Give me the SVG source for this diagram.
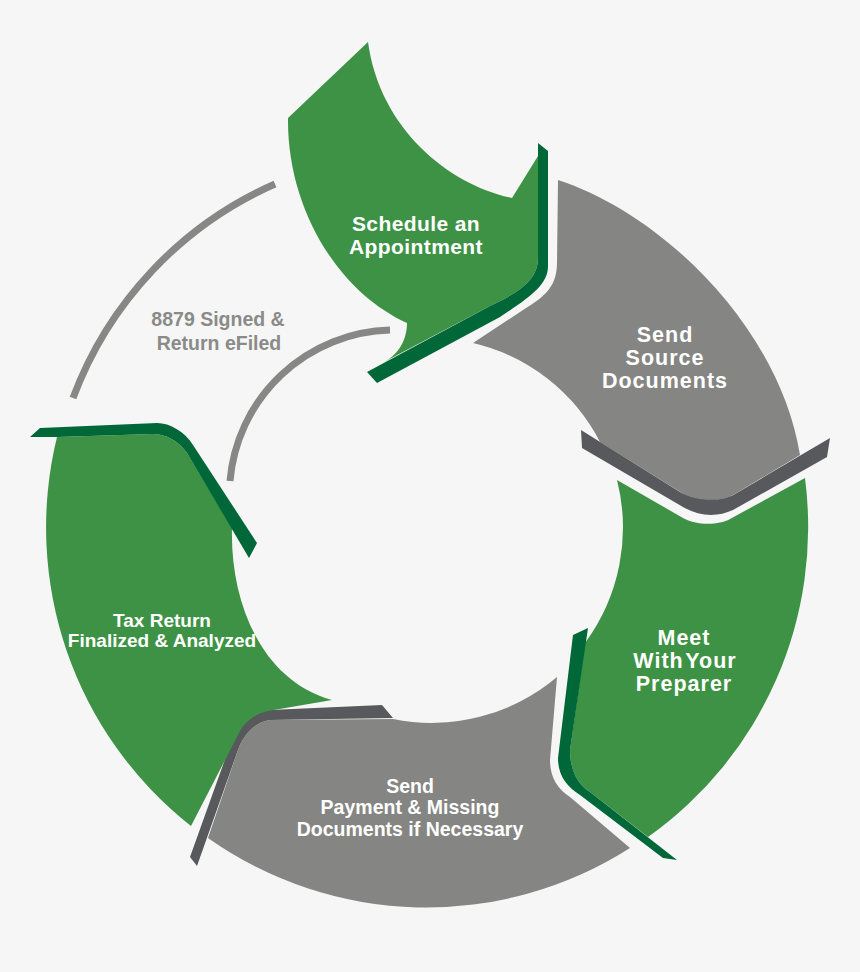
<svg xmlns="http://www.w3.org/2000/svg" width="860" height="972" viewBox="0 0 860 972">
<style>
.g{fill:#3e9245}
.dg{fill:#006838}
.s{fill:#858683}
.ds{fill:#58595c}
.arc{fill:none;stroke:#878886;stroke-width:7}
text{font-family:"Liberation Sans",Arial,Helvetica,sans-serif;font-weight:bold;text-anchor:middle}
.w{fill:#ffffff}
.t{fill:#8a8b89}
</style>
<rect width="860" height="972" fill="#f6f6f6"/>

<g id="step-8879">
<path class="arc" d="M 275,184 A 378 378 0 0 0 73,398"/>
<path class="arc" d="M 390,330 A 165 165 0 0 0 230,481"/>
<text class="t" font-size="19.5" x="218" y="326">8879 Signed &amp;</text>
<text class="t" font-size="19.5" x="219" y="350">Return eFiled</text>
</g>

<g id="step-schedule">
<path class="g" d="M 368,42 L 288,118 C 287,205 335,290 407,323 C 407,340 398,355 384,362 L 490,306 C 515,294 538,282 538,258 L 538,156 L 512,198 C 450,185 380,130 368,42 Z"/>
<path class="dg" d="M 367,372 L 490,306 C 515,294 538,282 538,258 L 538,143 L 548,151 L 548,266 C 548,285 530,297 500,317 L 377,383 Z"/>
<text class="w" font-size="21" letter-spacing="0.4" x="416" y="231">Schedule an</text>
<text class="w" font-size="21" letter-spacing="0.4" x="416" y="254">Appointment</text>
</g>

<g id="step-source">
<path class="s" d="M 558,180 C 665,215 780,330 800,455 L 733,495 C 720,502 697,503 682,493 L 600,442 A 192 192 0 0 0 473,343 L 523,310 C 540,299 557,290 557,263 Z"/>
<path class="ds" d="M 581,430 L 680,492 C 695,501 720,503 735,494 L 830,438 L 827,457 L 733,510 C 718,517 700,517 683,507 L 582,448 Z"/>
<text class="w" font-size="21.5" letter-spacing="1" x="665" y="342">Send</text>
<text class="w" font-size="21.5" letter-spacing="1" x="665" y="365">Source</text>
<text class="w" font-size="21.5" letter-spacing="1" x="665" y="388">Documents</text>
</g>

<g id="step-meet">
<path class="g" d="M 617,480 L 683,518 C 695,525 718,526 730,519 L 805,478 A 380 380 0 0 1 648,837 L 590,792 C 578,785 570,770 570,750 L 585,643 A 194 194 0 0 0 617,480 Z"/>
<path class="dg" d="M 573,635 L 588,628 L 570,750 C 570,770 578,785 590,792 L 677,860 L 663,858 L 580,795 C 566,786 558,775 558,758 Z"/>
<text class="w" font-size="21.5" letter-spacing="1" x="684" y="645">Meet</text>
<text class="w" font-size="21.5" letter-spacing="1" x="685" y="668" word-spacing="-5">With Your</text>
<text class="w" font-size="21.5" letter-spacing="1" x="684" y="691">Preparer</text>
</g>

<g id="step-payment">
<path class="s" d="M 557,677 A 194 194 0 0 1 393,719 L 270,720 C 255,722 243,735 238,750 L 208,838 A 378 378 0 0 0 630,848 L 570,797 C 558,789 550,778 550,760 Z"/>
<path class="ds" d="M 382,705 L 270,710 C 252,711 240,722 233,737 L 190,857 L 197,866 L 238,750 C 243,735 255,722 270,720 L 393,718 Z"/>
<text class="w" font-size="19.5" x="410" y="793">Send</text>
<text class="w" font-size="19.5" x="410" y="814">Payment &amp; Missing</text>
<text class="w" font-size="19.5" x="410" y="836">Documents if Necessary</text>
</g>

<g id="step-tax">
<path class="g" d="M 57,437 L 153,434 C 165,434 178,440 187,453 L 232,528 C 230,600 260,680 332,700 L 268,711 C 255,714 244,722 239,733 L 191,826 A 380 380 0 0 1 57,437 Z"/>
<path class="dg" d="M 30,437 L 40,428 L 157,423 C 170,423 185,432 193,445 L 257,543 L 249,558 L 187,453 C 178,440 165,434 153,434 L 57,437 Z"/>
<text class="w" font-size="19" x="162" y="627">Tax Return</text>
<text class="w" font-size="19" x="162" y="647">Finalized &amp; Analyzed</text>
</g>

<g id="connectors"></g>
</svg>
